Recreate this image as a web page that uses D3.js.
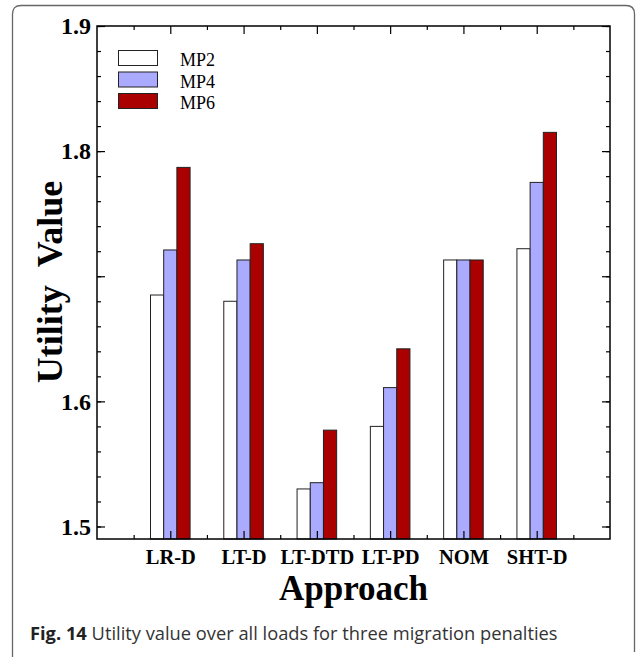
<!DOCTYPE html>
<html>
<head>
<meta charset="utf-8">
<script src="https://cdn.jsdelivr.net/npm/d3@7"></script>
<style>
  body { margin: 0; background: #fff; }
  svg { display: block; }
</style>
</head>
<body>
<svg id="chart"></svg>
<script>
// values
const categories = ["LR-D", "LT-D", "LT-DTD", "LT-PD", "NOM", "SHT-D"];
const seriesNames = ["MP2", "MP4", "MP6"];
const mp2 = [1.685, 1.680, 1.530, 1.580, 1.713, 1.722];
const mp4 = [1.721, 1.713, 1.535, 1.611, 1.713, 1.775];
const mp6 = [1.787, 1.726, 1.577, 1.642, 1.713, 1.815];
const yTickLabels = ["1.5", "1.6", "", "1.8", "1.9"];

const colors = {MP2: "#ffffff", MP4: "#aaaaff", MP6: "#aa0000"};
const seriesValues = {MP2: mp2, MP4: mp4, MP6: mp6};

let width = 637;
let height = 657;

let plot = {left: 97, right: 610, top: 26, bottom: 539};

let svg = d3.select('#chart')
    .attr('width', width)
    .attr('height', height);

// panel frame with rounded top corners
svg.append('path')
    .attr('d', `M12.5,660 L12.5,14 Q12.5,5.5 21,5.5 L626,5.5 Q634.5,5.5 634.5,14 L634.5,652`)
    .attr('fill', 'none')
    .attr('stroke', '#666')
    .attr('stroke-width', 1.3);

let xScale = d3.scaleLinear()
    .domain([0, categories.length + 1])
    .range([plot.left, plot.right]);
let yScale = d3.scaleLinear()
    .domain([1.49, 1.9])
    .range([plot.bottom, plot.top]);

let barW = 0.18;
let xSub = d3.scaleBand()
    .domain(seriesNames)
    .range([-1.5 * barW, 1.5 * barW]);

// bars
seriesNames.forEach(name => {
    svg.append('g')
      .selectAll('rect')
      .data(seriesValues[name])
      .join('rect')
        .attr('x', (d, i) => xScale(i + 1 + xSub(name)))
        .attr('width', (d, i) => xScale(i + 1 + xSub(name) + xSub.bandwidth()) - xScale(i + 1 + xSub(name)))
        .attr('y', d => yScale(d))
        .attr('height', d => yScale(1.49) - yScale(d))
        .attr('fill', colors[name])
        .attr('stroke', '#222')
        .attr('stroke-width', 1);
});

// axes, ticks pointing inward
let majorY = d3.range(5).map(i => 1.5 + i * 0.1);
let minorY = d3.range(21).map(i => 1.5 + i * 0.02);
let majorX = d3.range(1, categories.length + 1);
let minorX = d3.range(categories.length + 1).map(i => i + 0.5);

function styleAxis(g) {
    g.select('.domain').remove();
    g.selectAll('line').attr('stroke', '#000').attr('stroke-width', 1.2);
}

svg.append('g')
    .attr('transform', `translate(${plot.left},0)`)
    .call(d3.axisLeft(yScale).tickValues(minorY).tickSize(-4).tickFormat(''))
    .call(styleAxis);
svg.append('g')
    .attr('class', 'yaxis')
    .attr('transform', `translate(${plot.left},0)`)
    .call(d3.axisLeft(yScale).tickValues(majorY).tickSize(-8).tickPadding(6)
        .tickFormat((d, i) => yTickLabels[i]))
    .call(styleAxis);
svg.append('g')
    .attr('transform', `translate(${plot.right},0)`)
    .call(d3.axisRight(yScale).tickValues(minorY).tickSize(-4).tickFormat(''))
    .call(styleAxis);
svg.append('g')
    .attr('transform', `translate(${plot.right},0)`)
    .call(d3.axisRight(yScale).tickValues(majorY).tickSize(-8).tickFormat(''))
    .call(styleAxis);

svg.append('g')
    .attr('transform', `translate(0,${plot.bottom})`)
    .call(d3.axisBottom(xScale).tickValues(minorX).tickSize(-4).tickFormat(''))
    .call(styleAxis);
svg.append('g')
    .attr('class', 'xaxis')
    .attr('transform', `translate(0,${plot.bottom})`)
    .call(d3.axisBottom(xScale).tickValues(majorX).tickSize(-8).tickPadding(10)
        .tickFormat(d => categories[d - 1]))
    .call(styleAxis);
svg.append('g')
    .attr('transform', `translate(0,${plot.top})`)
    .call(d3.axisTop(xScale).tickValues(minorX).tickSize(-4).tickFormat(''))
    .call(styleAxis);
svg.append('g')
    .attr('transform', `translate(0,${plot.top})`)
    .call(d3.axisTop(xScale).tickValues(majorX).tickSize(-8).tickFormat(''))
    .call(styleAxis);

svg.selectAll('.yaxis text, .xaxis text')
    .attr('font-family', '"Liberation Serif", "Times New Roman", serif')
    .attr('font-weight', 'bold')
    .attr('fill', '#000');
svg.selectAll('.yaxis text').attr('font-size', 24);
svg.selectAll('.xaxis text').attr('font-size', 20.5);

// plot frame
svg.append('rect')
    .attr('x', plot.left)
    .attr('y', plot.top)
    .attr('width', plot.right - plot.left)
    .attr('height', plot.bottom - plot.top)
    .attr('fill', 'none')
    .attr('stroke', '#000')
    .attr('stroke-width', 1.5);

// axis titles
svg.append('text')
    .text('Approach')
    .attr('x', (plot.left + plot.right) / 2)
    .attr('y', 600)
    .attr('text-anchor', 'middle')
    .attr('font-family', '"Liberation Serif", serif')
    .attr('font-weight', 'bold')
    .attr('font-size', 35);

svg.append('text')
    .text('Utility\u00a0\u00a0Value')
    .attr('transform', 'translate(62,282) rotate(-90)')
    .attr('text-anchor', 'middle')
    .attr('font-family', '"Liberation Serif", serif')
    .attr('font-weight', 'bold')
    .attr('font-size', 36);

// legend
let legend = svg.append('g');
seriesNames.forEach((name, i) => {
    legend.append('rect')
        .attr('x', 118.5)
        .attr('y', 50.5 + i * 21.5)
        .attr('width', 39)
        .attr('height', 15)
        .attr('fill', colors[name])
        .attr('stroke', '#222')
        .attr('stroke-width', 1);
    legend.append('text')
        .text(name)
        .attr('x', 180)
        .attr('y', 66 + i * 21.5)
        .attr('font-family', '"Liberation Serif", serif')
        .attr('font-size', 18);
});

// caption
let caption = svg.append('text')
    .attr('x', 30)
    .attr('y', 640)
    .attr('font-family', '"Open Sans", "Noto Sans", sans-serif')
    .attr('font-size', 18.3)
    .attr('fill', '#333');
caption.append('tspan').attr('font-weight', 'bold').attr('fill', '#222').text('Fig. 14');
caption.append('tspan').text(' Utility value over all loads for three migration penalties');
</script>
</body>
</html>
